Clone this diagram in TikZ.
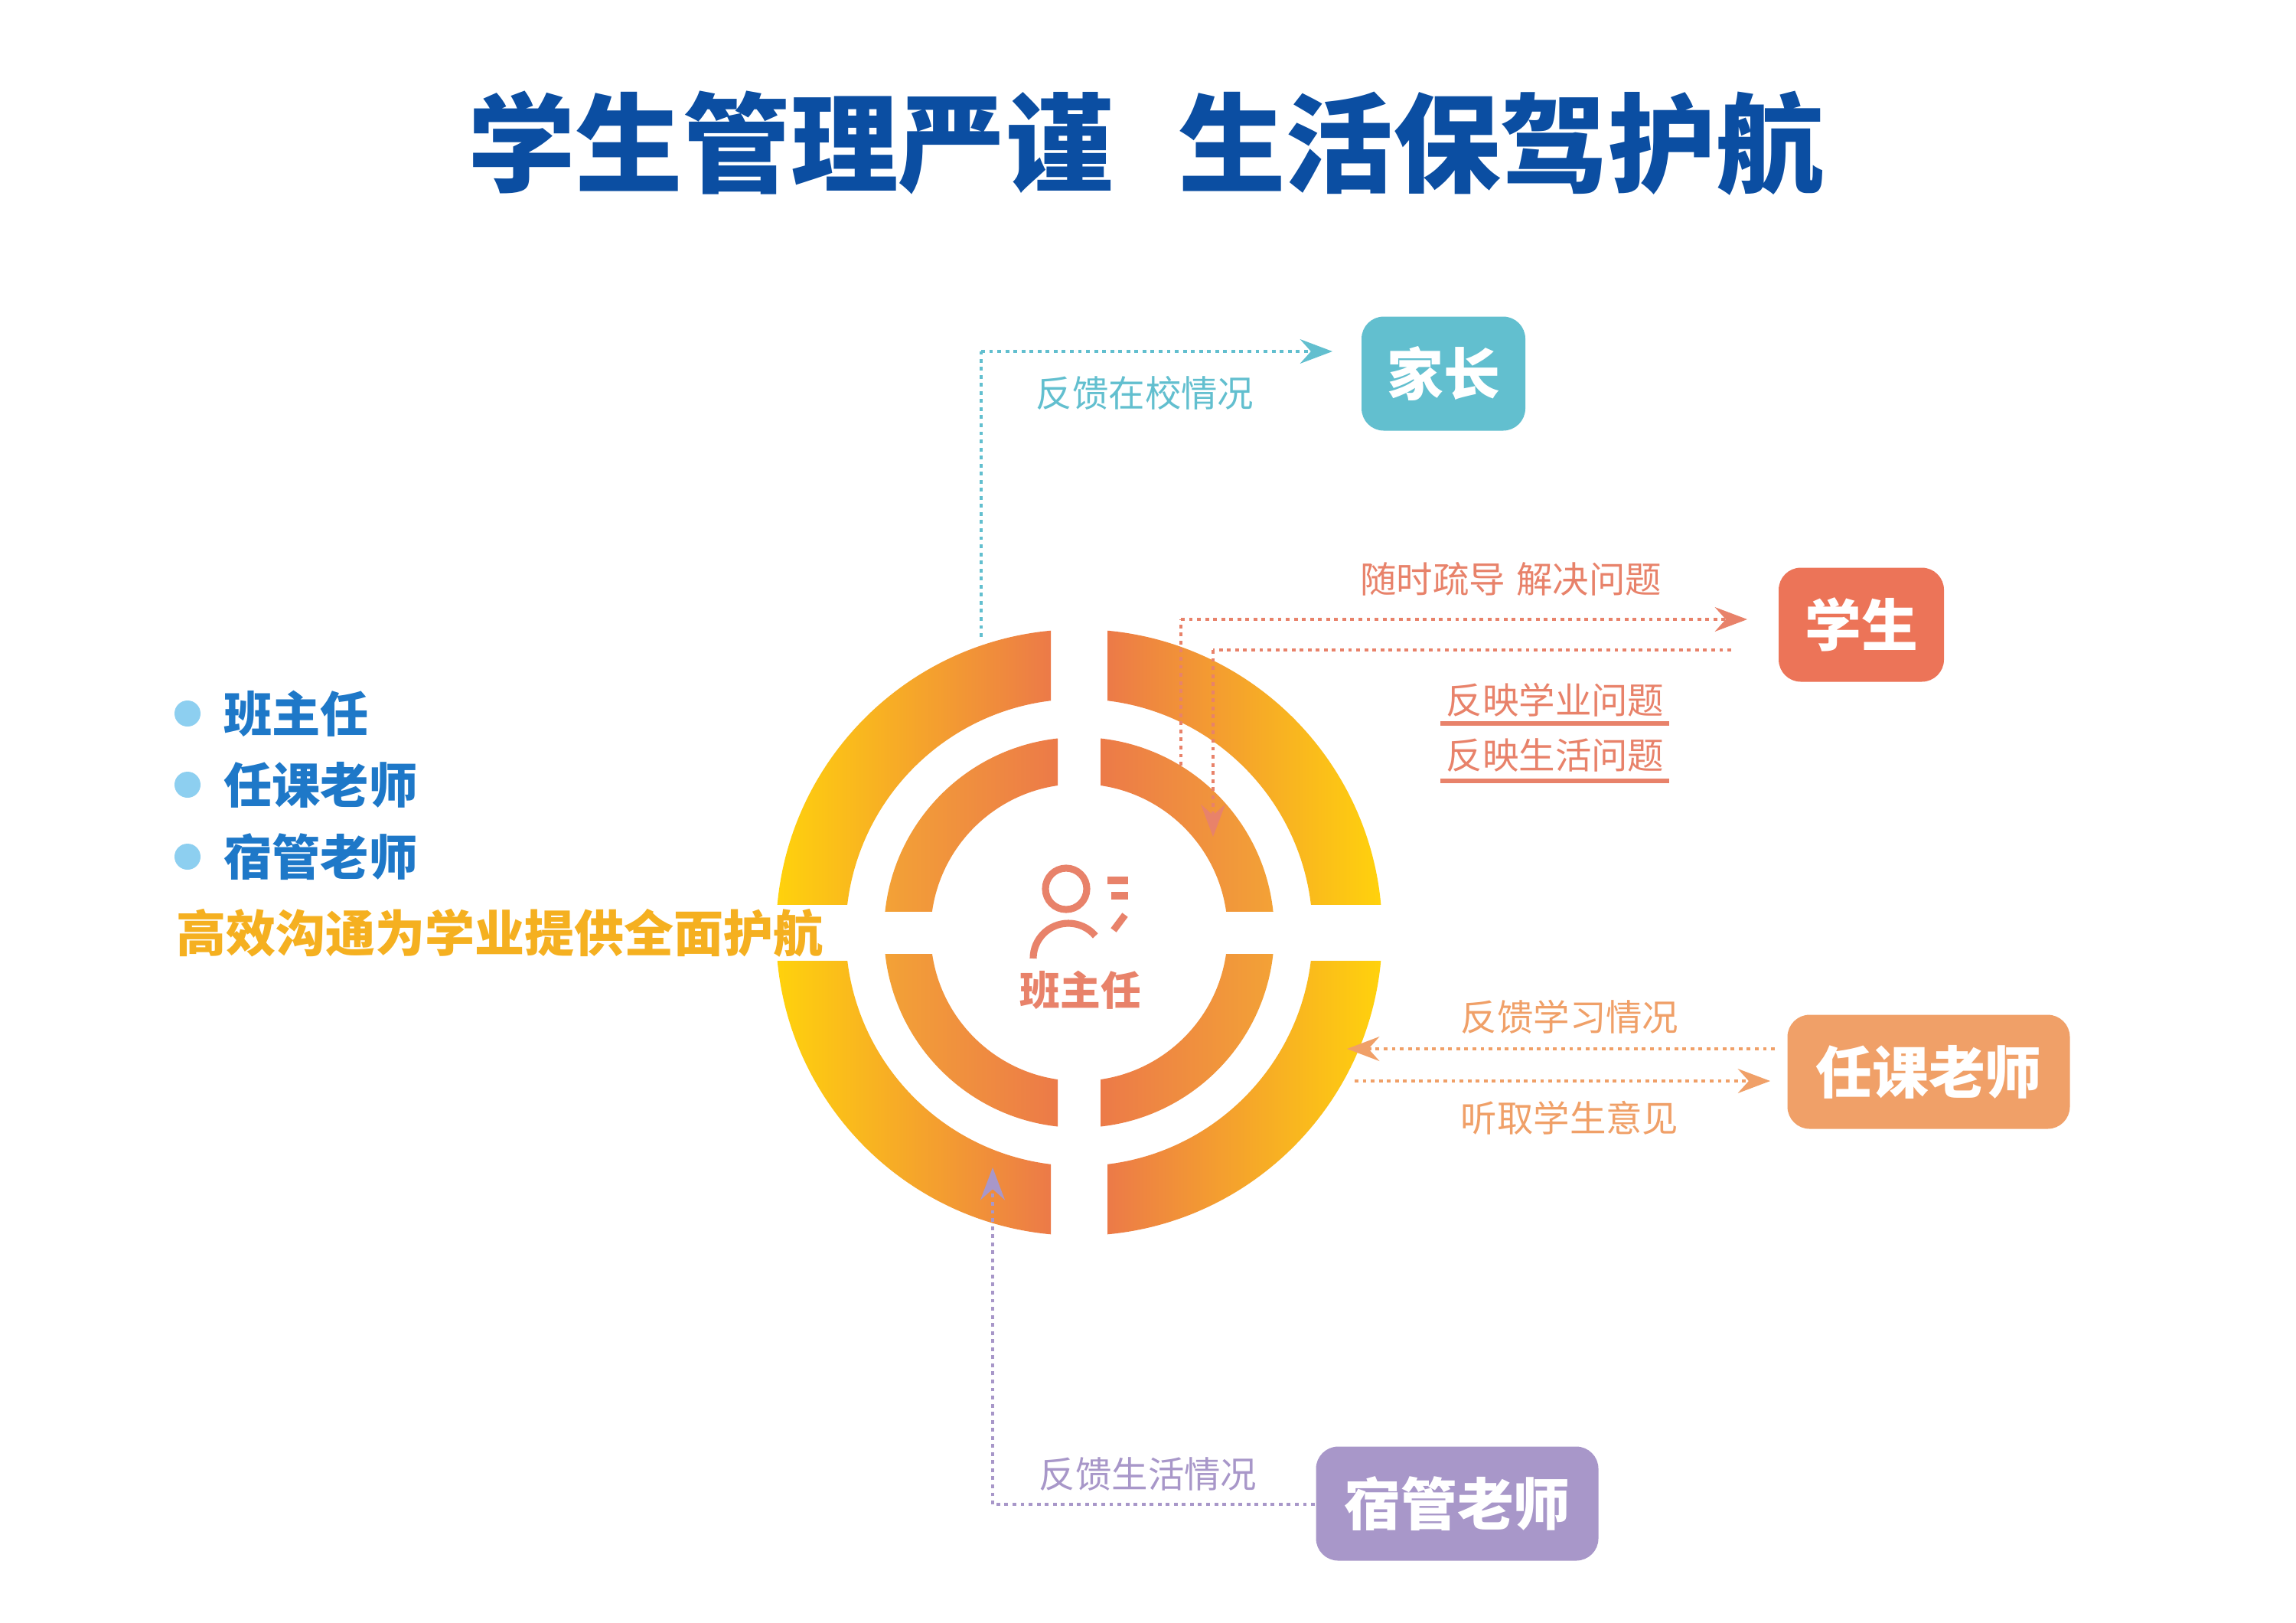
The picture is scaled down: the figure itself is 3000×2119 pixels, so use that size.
\documentclass[tikz,border=0pt]{standalone}
\usepackage{fontspec}
\newfontfamily\cjk{Noto Sans CJK SC}
\usetikzlibrary{arrows.meta}
\definecolor{ttl}{HTML}{0B4EA2}
\definecolor{cteal}{HTML}{62BFCF}
\definecolor{cred}{HTML}{EC7458}
\definecolor{csal}{HTML}{E8826A}
\definecolor{corg}{HTML}{F0A068}
\definecolor{cpur}{HTML}{A897C9}
\definecolor{cyel}{HTML}{FFD20C}
\definecolor{cor1}{HTML}{EC7A48}
\definecolor{cor2}{HTML}{F3A236}
\definecolor{cblue}{HTML}{1E78C8}
\definecolor{cdot}{HTML}{8DCFF0}
\definecolor{cslogan}{HTML}{F5B020}
\tikzset{
 box/.style={rounded corners=2.9mm, minimum width=#1, minimum height=14.9mm, text=white, font=\cjk\fontsize{21}{24}\selectfont\bfseries},
 lnk/.style={draw=#1, line width=1.3pt, dash pattern=on 1.4pt off 1.6pt},
 tip/.style={-{Stealth[length=12pt,width=9pt,inset=4pt]}},
 lab/.style={text=#1, font=\cjk\fontsize{13.5}{15}\selectfont},
 item/.style={text=cblue, font=\cjk\fontsize{18}{20}\selectfont\bfseries, anchor=west},
}
\begin{document}
\begin{tikzpicture}[x=0.1mm,y=-0.1mm]
\useasboundingbox (0,0) rectangle (3000,2119);
\fill[white] (0,0) rectangle (3000,2119);
% title
\node (title) at (1497,187) [text=ttl, font=\cjk\fontsize{40}{45}\selectfont\bfseries] {学生管理严谨\hspace{0.6em}生活保驾护航};
% rings
\def\cx{1410}\def\cy{1218}
\foreach \R/\r/\g/\a/\b in {396/305/37/cyel/cor1, 255/194/28/cor2/cor1}{
  \foreach \sx/\sy in {-1/-1, 1/-1, -1/1, 1/1}{
    \begin{scope}[even odd rule]
      \clip (\cx,\cy) circle (\R) (\cx,\cy) circle (\r);
      \ifnum\sx<0
        \shade[left color=\a, right color=\b] (\cx-\R,\cy+\sy*\g) rectangle (\cx-\g,\cy+\sy*\R);
      \else
        \shade[left color=\b, right color=\a] (\cx+\g,\cy+\sy*\g) rectangle (\cx+\R,\cy+\sy*\R);
      \fi
    \end{scope}
  }
}
% icon
\coordinate (ctr) at (\cx,\cy);
\draw[csal, line width=2.6pt] (1393,1161) circle (27);
\draw[csal, line width=2.6pt] (1350,1252) arc (180:320:46);
\draw[csal, line width=2.6pt] (1447,1150) -- (1474,1150) (1452,1170) -- (1474,1170);
\draw[csal, line width=2.6pt] (1455,1215) -- (1470,1195);
\node (bzr) at (1412,1293) [text=csal, font=\cjk\fontsize{15}{17}\selectfont\bfseries] {班主任};
% boxes
\node (jz) [box=21.4mm, fill=cteal] at (1886,488) {家长};
\node (xs) [box=21.6mm, fill=cred] at (2432,816) {学生};
\node (rk) [box=36.9mm, fill=corg] at (2520,1400) {任课老师};
\node (sg) [box=36.9mm, fill=cpur] at (1904,1964) {宿管老师};
% parent
\coordinate (p0) at (1282,832);
\coordinate (p1) at (1741,459);
\draw[lnk=cteal] (p0) -- (p0 |- p1);
\draw[lnk=cteal, tip] (p0 |- p1) -- (p1);
\node (l1) at (1496,513) [lab=cteal] {反馈在校情况};
% student
\coordinate (s0) at (1543,1000);
\coordinate (s1) at (2283,809);
\draw[lnk=csal] (s0) -- (s0 |- s1);
\draw[lnk=csal, tip] (s0 |- s1) -- (s1);
\coordinate (s2) at (2262,849);
\coordinate (s3) at (1585,1093);
\draw[lnk=csal] (s2) -- (s3 |- s2);
\draw[lnk=csal, tip] (s3 |- s2) -- (s3);
\node (l2) at (1974,756) [lab=csal] {随时疏导\hspace{0.3em}解决问题};
\node (l3) at (2032,914) [lab=csal] {反映学业问题};
\node (l4) at (2032,987) [lab=csal] {反映生活问题};
\draw[csal, line width=1.8pt] (1882,945) -- (2181,945) (1882,1020) -- (2181,1020);
% teacher
\coordinate (t0) at (2319,1370);
\coordinate (t1) at (1760,1370);
\coordinate (t2) at (1770,1412);
\coordinate (t3) at (2313,1412);
\draw[lnk=corg, tip] (t0) -- (t1);
\draw[lnk=corg, tip] (t2) -- (t3);
\node (l5) at (2051,1328) [lab=corg] {反馈学习情况};
\node (l6) at (2051,1460) [lab=corg] {听取学生意见};
% dorm
\coordinate (d0) at (1718,1965);
\coordinate (d1) at (1297,1525);
\draw[lnk=cpur] (d0) -- (d1 |- d0);
\draw[lnk=cpur, tip] (d1 |- d0) -- (d1);
\node (l7) at (1500,1926) [lab=cpur] {反馈生活情况};
% left list
\foreach \n/\y/\t in {b1/932/班主任, b2/1025/任课老师, b3/1119/宿管老师}{
  \fill[cdot] (245,\y) circle (17);
  \node (\n) at (280,\y) [item] {\t};
}
\node (slogan) at (218,1219) [item, text=cslogan, font=\cjk\fontsize{18.5}{20}\selectfont\bfseries] {高效沟通为学业提供全面护航};
\end{tikzpicture}
\end{document}
